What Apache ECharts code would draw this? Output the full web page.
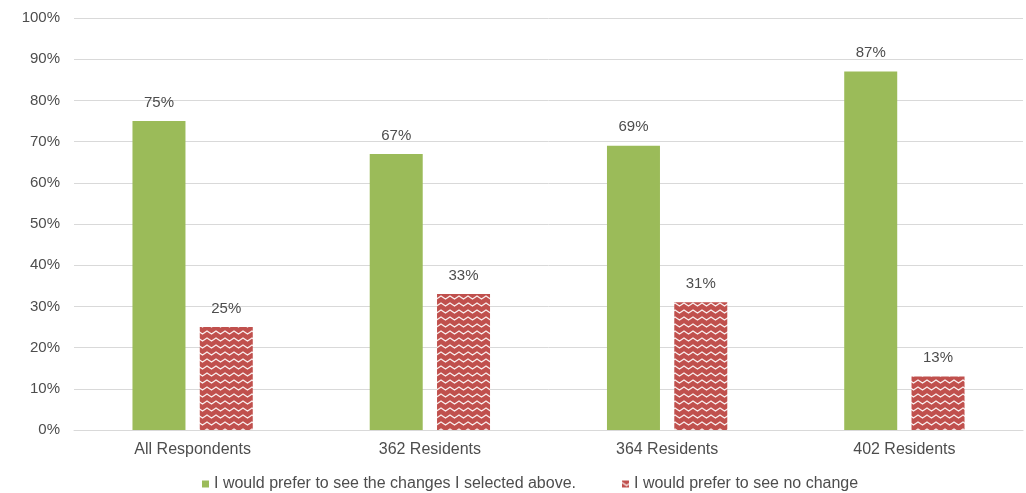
<!DOCTYPE html>
<html>
<head>
<meta charset="utf-8">
<script src="https://cdn.jsdelivr.net/npm/echarts@6/dist/echarts.min.js"></script>
<style>
html, body { margin: 0; padding: 0; background: #fff; }
#main { width: 1026px; height: 493px; }
</style>
</head>
<body>
<div id="main"></div>
<script>
var categories = ['All Respondents', '362 Residents', '364 Residents', '402 Residents'];
var seriesNames = ['I would prefer to see the changes I selected above.', 'I would prefer to see no change'];
var changeValues = [75, 67, 69, 87];
var noChangeValues = [25, 33, 31, 13];

// zigzag fill for the second series
function zigzag() {
  var c = document.createElement('canvas');
  c.width = 9; c.height = 7;
  var ctx = c.getContext('2d');
  ctx.fillStyle = '#c0504d';
  ctx.fillRect(0, 0, 9, 7);
  ctx.strokeStyle = 'rgba(255,255,255,0.9)';
  ctx.lineWidth = 1.3;
  ctx.beginPath();
  ctx.moveTo(-4.5, 5);
  ctx.lineTo(0, 2);
  ctx.lineTo(4.5, 5);
  ctx.lineTo(9, 2);
  ctx.lineTo(13.5, 5);
  ctx.stroke();
  return c;
}

var chart = echarts.init(document.getElementById('main'));
var font = 'Liberation Sans';
var txt = '#4d4d4d';
var labelStyle = { show: true, position: 'top', distance: 11, formatter: '{c}%', color: txt, fontSize: 15, fontFamily: font };

chart.setOption({
  animation: false,
  grid: { left: 74, right: 3, top: 18, bottom: 63 },
  legend: {
    left: 197, top: 471,
    icon: 'rect',
    itemWidth: 7, itemHeight: 7, itemGap: 46,
    textStyle: { color: txt, fontSize: 16, fontFamily: font },
    data: seriesNames
  },
  xAxis: {
    type: 'category',
    data: categories,
    axisTick: { show: false },
    axisLine: { lineStyle: { color: '#d9d9d9' } },
    axisLabel: { color: txt, fontSize: 16, margin: 12, fontFamily: font }
  },
  yAxis: {
    type: 'value',
    min: 0, max: 100, interval: 10,
    axisLabel: { formatter: '{value}%', color: txt, fontSize: 15, margin: 14, fontFamily: font },
    splitLine: { lineStyle: { color: '#d9d9d9' } }
  },
  series: [
    {
      name: seriesNames[0], type: 'bar', data: changeValues,
      barWidth: 53, barGap: '27%',
      itemStyle: { color: '#9bbb59' },
      label: labelStyle
    },
    {
      name: seriesNames[1], type: 'bar', data: noChangeValues,
      barWidth: 53,
      itemStyle: { color: { image: zigzag(), repeat: 'repeat' } },
      label: labelStyle
    }
  ]
});
</script>
</body>
</html>
